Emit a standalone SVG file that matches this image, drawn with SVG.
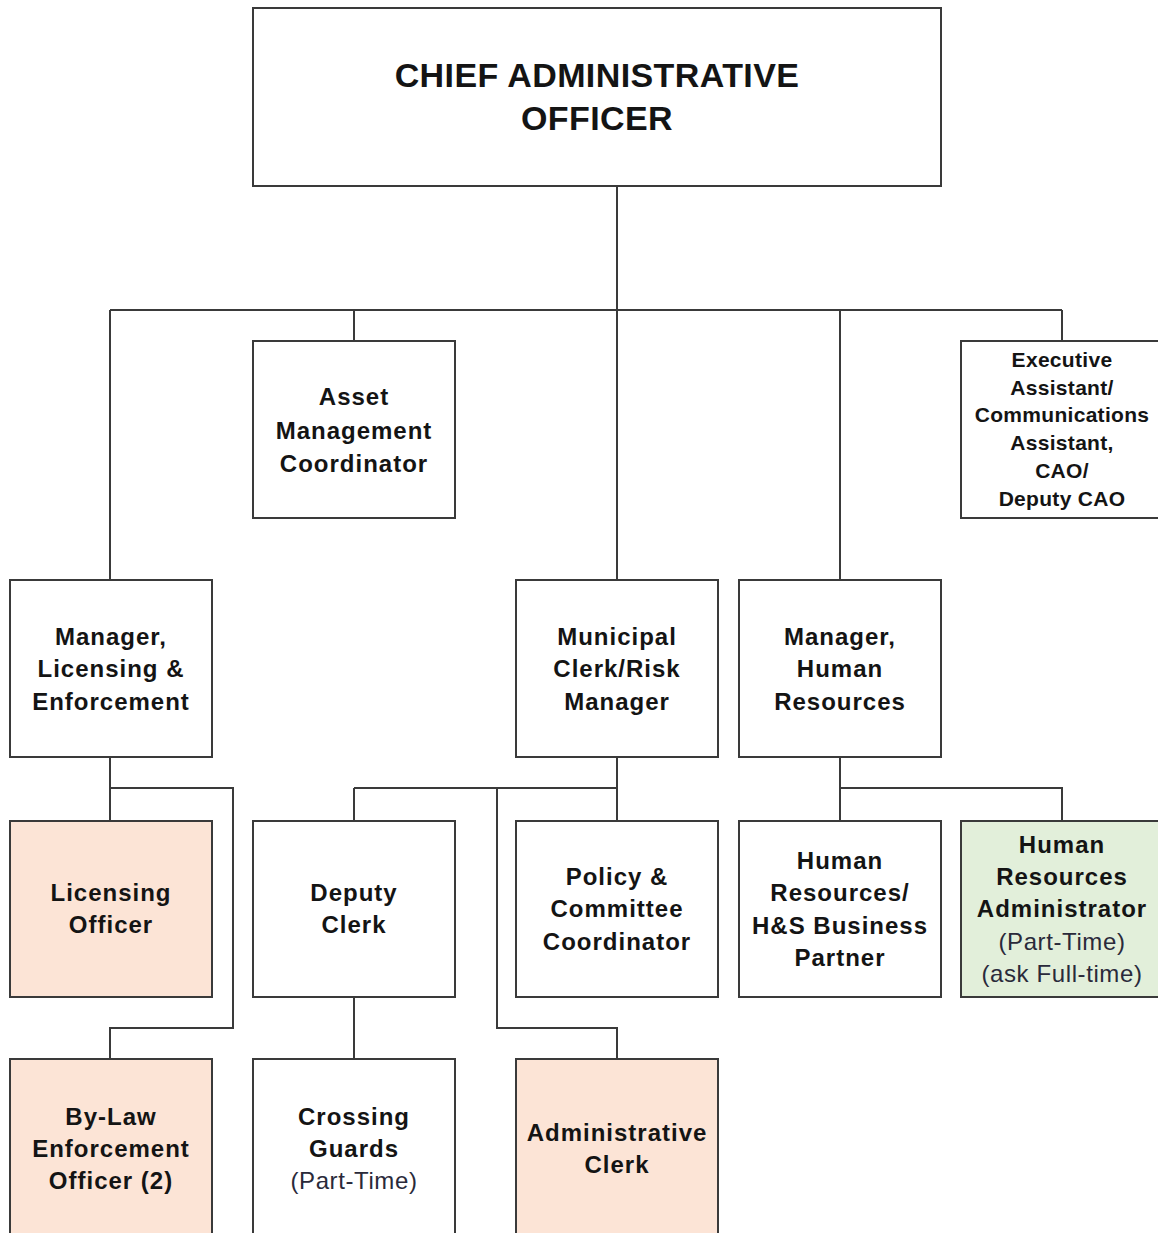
<svg xmlns="http://www.w3.org/2000/svg" width="1158" height="1233" viewBox="0 0 1158 1233">
<style>
.box{fill:#fff;stroke:#3a3a3a;stroke-width:2}
.peach{fill:#fce4d6}
.green{fill:#e2efda}
.ln{fill:none;stroke:#3a3a3a;stroke-width:2}
text{font-family:"Liberation Sans",Arial,sans-serif;fill:#141414;text-anchor:middle}
.t{font-size:24px;font-weight:bold;letter-spacing:1px}
.s{font-size:21px;font-weight:bold;letter-spacing:0.3px}
.r{font-size:24px;font-weight:normal;letter-spacing:0.6px;fill:#2a2a3a}
.h{font-size:34px;font-weight:bold;letter-spacing:0.4px}
</style>
<rect width="1158" height="1233" fill="#fff"/>
<g id="connectors">
<path class="ln" d="M617 186V310M110 310H1062M110 310V580M354 310V341M617 310V580M840 310V580M1062 310V341"/>
<path class="ln" d="M110 757V821M110 788H233V1028H110V1059"/>
<path class="ln" d="M617 757V821M354 788H617M354 788V821M497 788V1028H617V1059"/>
<path class="ln" d="M354 997V1059"/>
<path class="ln" d="M840 757V821M840 788H1062V821"/>
</g>
<g id="cao"><rect class="box" x="253" y="8" width="688" height="178"/>
<text class="h" x="597" y="87">CHIEF ADMINISTRATIVE</text><text class="h" x="597" y="130">OFFICER</text></g>
<g id="asset"><rect class="box" x="253" y="341" width="202" height="177"/>
<text class="t" x="354" y="405">Asset</text><text class="t" x="354" y="439">Management</text><text class="t" x="354" y="472">Coordinator</text></g>
<g id="exec"><rect class="box" x="961" y="341" width="220" height="177"/>
<text class="s" x="1062" y="367">Executive</text><text class="s" x="1062" y="395">Assistant/</text><text class="s" x="1062" y="422">Communications</text><text class="s" x="1062" y="450">Assistant,</text><text class="s" x="1062" y="478">CAO/</text><text class="s" x="1062" y="506">Deputy CAO</text></g>
<g id="mgr-le"><rect class="box" x="10" y="580" width="202" height="177"/>
<text class="t" x="111" y="645">Manager,</text><text class="t" x="111" y="677">Licensing &amp;</text><text class="t" x="111" y="710">Enforcement</text></g>
<g id="clerk"><rect class="box" x="516" y="580" width="202" height="177"/>
<text class="t" x="617" y="645">Municipal</text><text class="t" x="617" y="677">Clerk/Risk</text><text class="t" x="617" y="710">Manager</text></g>
<g id="mgr-hr"><rect class="box" x="739" y="580" width="202" height="177"/>
<text class="t" x="840" y="645">Manager,</text><text class="t" x="840" y="677">Human</text><text class="t" x="840" y="710">Resources</text></g>
<g id="lic"><rect class="box peach" x="10" y="821" width="202" height="176"/>
<text class="t" x="111" y="901">Licensing</text><text class="t" x="111" y="933">Officer</text></g>
<g id="deputy"><rect class="box" x="253" y="821" width="202" height="176"/>
<text class="t" x="354" y="901">Deputy</text><text class="t" x="354" y="933">Clerk</text></g>
<g id="policy"><rect class="box" x="516" y="821" width="202" height="176"/>
<text class="t" x="617" y="885">Policy &amp;</text><text class="t" x="617" y="917">Committee</text><text class="t" x="617" y="950">Coordinator</text></g>
<g id="hrbp"><rect class="box" x="739" y="821" width="202" height="176"/>
<text class="t" x="840" y="869">Human</text><text class="t" x="840" y="901">Resources/</text><text class="t" x="840" y="934">H&amp;S Business</text><text class="t" x="840" y="966">Partner</text></g>
<g id="hradmin"><rect class="box green" x="961" y="821" width="220" height="176"/>
<text class="t" x="1062" y="853">Human</text><text class="t" x="1062" y="885">Resources</text><text class="t" x="1062" y="917">Administrator</text><text class="r" x="1062" y="950">(Part-Time)</text><text class="r" x="1062" y="982">(ask Full-time)</text></g>
<g id="bylaw"><rect class="box peach" x="10" y="1059" width="202" height="200"/>
<text class="t" x="111" y="1125">By-Law</text><text class="t" x="111" y="1157">Enforcement</text><text class="t" x="111" y="1189">Officer (2)</text></g>
<g id="guards"><rect class="box" x="253" y="1059" width="202" height="200"/>
<text class="t" x="354" y="1125">Crossing</text><text class="t" x="354" y="1157">Guards</text><text class="r" x="354" y="1189">(Part-Time)</text></g>
<g id="adminclerk"><rect class="box peach" x="516" y="1059" width="202" height="200"/>
<text class="t" x="617" y="1141">Administrative</text><text class="t" x="617" y="1173">Clerk</text></g>
</svg>
